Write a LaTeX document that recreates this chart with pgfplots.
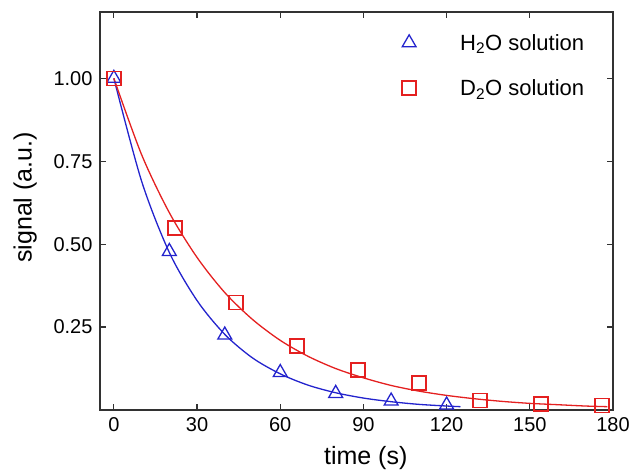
\documentclass[border=0pt]{standalone}
\usepackage{fontspec}
\setmainfont{Liberation Sans}
\usepackage{pgfplots}
\pgfplotsset{compat=1.18}

\definecolor{h2oblue}{RGB}{35,35,205}
\definecolor{d2ored}{RGB}{228,32,32}
\definecolor{axgray}{RGB}{50,50,50}

\pgfplotsset{
    markleg/.style={legend image code/.code={%
        \path[draw=none,fill=none] (0bp,-1bp) rectangle (64bp,1bp);
        \draw[##1, only marks] plot coordinates {(15bp,0bp)};}},
}

\begin{document}
\begin{tikzpicture}
\begin{axis}[
    scale only axis,
    width=513bp, height=398bp,
    xmin=-5, xmax=180,
    ymin=0, ymax=1.2,
    xtick={0,30,...,180},
    ytick={0.25,0.5,0.75,1},
    yticklabel style={/pgf/number format/fixed, /pgf/number format/fixed zerofill, /pgf/number format/precision=2},
    /pgf/number format/assume math mode=true,
    tick label style={font=\fontsize{20bp}{24bp}\selectfont},
    tick align=inside,
    major tick length=6bp,
    minor tick num=0,
    axis line style={axgray, line width=1.2bp},
    every tick/.style={axgray, line width=1.2bp},
    xticklabel style={yshift=-4bp},
    yticklabel style={xshift=-4bp},
    xlabel={time (s)},
    ylabel={signal (a.u.)},
    label style={font=\fontsize{25bp}{29bp}\selectfont},
    xlabel style={at={(axis description cs:0.518,-0.12)}, anchor=center},
    ylabel style={at={(axis description cs:-0.146,0.534)}, anchor=center},
    legend style={draw=none, fill=none, inner sep=0pt,
        at={(axis description cs:0.573,0.95)}, anchor=north west,
        row sep=24bp,
        font=\fontsize{22bp}{26bp}\selectfont},
    legend cell align=left,
]

% fitted decay curves
\addplot[h2oblue, line width=1.3bp, smooth, no marks, forget plot] coordinates {
    (0,1.00) (10,0.690) (20,0.475) (30,0.330) (40,0.228) (50,0.157)
    (60,0.109) (70,0.075) (80,0.052) (90,0.036) (100,0.025) (110,0.017)
    (120,0.012) (125,0.010)
};
\addplot[d2ored, line width=1.3bp, smooth, no marks, forget plot] coordinates {
    (0,1.00) (10,0.770) (20,0.595) (30,0.460) (40,0.354) (50,0.273)
    (60,0.210) (70,0.162) (80,0.125) (90,0.097) (100,0.074) (110,0.057)
    (120,0.044) (130,0.034) (140,0.026) (150,0.020) (160,0.016)
    (170,0.012) (178,0.010)
};

% measured points
\addplot[h2oblue, only marks, mark=triangle, mark size=8bp, line width=1.3bp, markleg] coordinates {
    (0,1.00) (20,0.478) (40,0.226) (60,0.113) (80,0.050) (100,0.027) (120,0.015)
};
\addplot[d2ored, only marks, mark=square, mark size=7bp, line width=1.5bp, markleg] coordinates {
    (0,1.00) (22,0.548) (44,0.324) (66,0.193) (88,0.121) (110,0.082)
    (132,0.028) (154,0.018) (176,0.013)
};

\legend{H\textsubscript{2}O solution, D\textsubscript{2}O solution}
\end{axis}
\path ([xshift=-100bp,yshift=-63bp]current axis.south west) rectangle ([xshift=20bp,yshift=12bp]current axis.north east);
\end{tikzpicture}
\end{document}
